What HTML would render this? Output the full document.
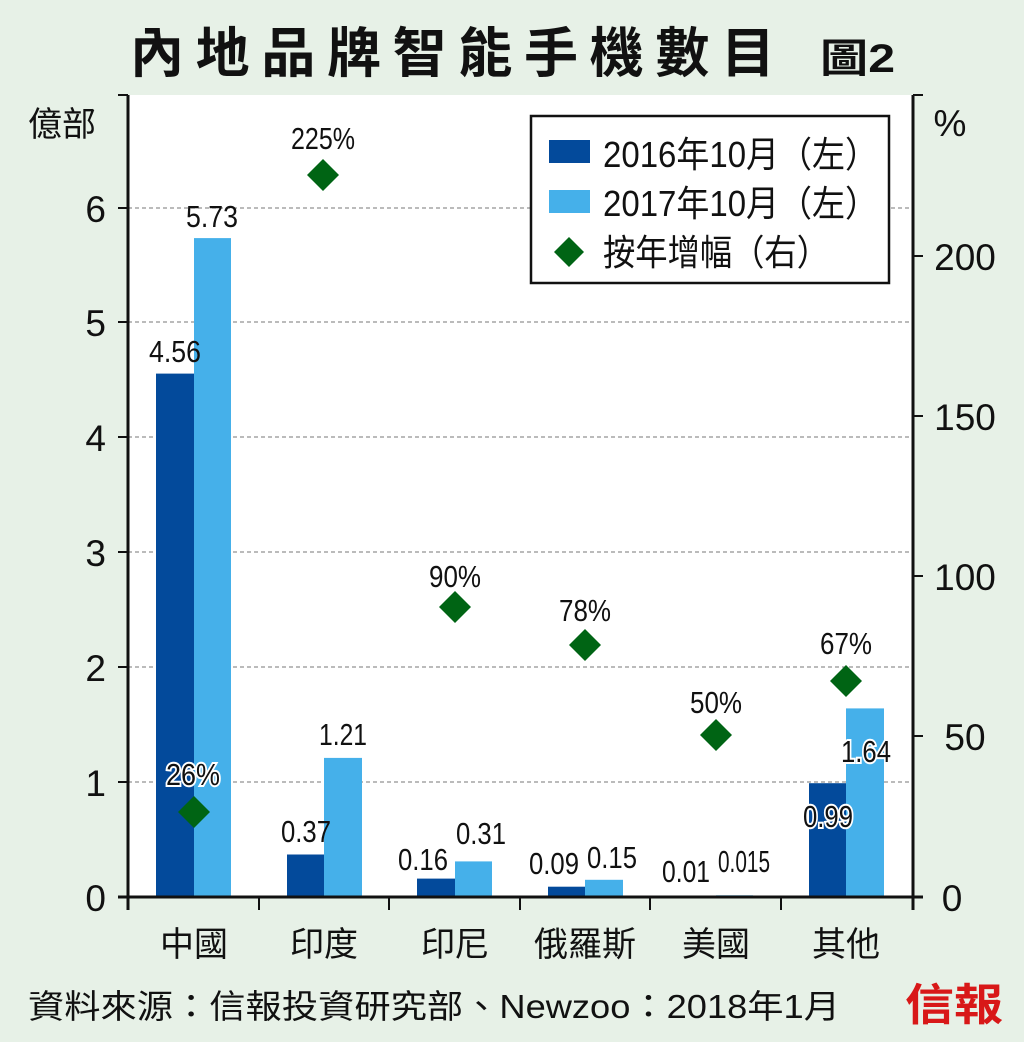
<!DOCTYPE html>
<html><head><meta charset="utf-8"><style>
body{margin:0;background:#e7f1e7;}
svg{display:block}
text{font-family:"Liberation Sans","Noto Sans CJK TC",sans-serif;}
.v{font-size:31px;text-anchor:middle;fill:#111}
.o{stroke:#fff;stroke-width:4;paint-order:stroke;}
</style></head><body>
<svg width="1024" height="1042" viewBox="0 0 1024 1042">
<rect width="1024" height="1042" fill="#e7f1e7"/>
<text x="130" y="72" font-size="54" font-weight="bold" textLength="645" lengthAdjust="spacing" fill="#111">內地品牌智能手機數目</text>
<text x="820" y="72" font-size="40" font-weight="bold" textLength="75" lengthAdjust="spacingAndGlyphs" fill="#111">圖2</text>
<rect x="128" y="95" width="785" height="802" fill="#fff"/>
<g stroke="#777" stroke-dasharray="4,3" stroke-width="1">
<line x1="128" x2="913" y1="782" y2="782"/><line x1="128" x2="913" y1="667" y2="667"/>
<line x1="128" x2="913" y1="552" y2="552"/><line x1="128" x2="913" y1="437" y2="437"/>
<line x1="128" x2="913" y1="322" y2="322"/><line x1="128" x2="913" y1="208" y2="208"/>
</g>
<g fill="#034a9b">
<rect x="156" y="373.6" width="38" height="523.4"/>
<rect x="287" y="854.5" width="37" height="42.5"/>
<rect x="417" y="878.6" width="38" height="18.4"/>
<rect x="548" y="886.7" width="37" height="10.3"/>
<rect x="678" y="895.9" width="38" height="1.1"/>
<rect x="809" y="783.2" width="37" height="113.8"/>
</g>
<g fill="#45b0ea">
<rect x="194" y="238.1" width="37" height="658.9"/>
<rect x="324" y="757.9" width="38" height="139.1"/>
<rect x="455" y="861.4" width="37" height="35.6"/>
<rect x="585" y="879.8" width="38" height="17.2"/>
<rect x="716" y="895.3" width="37" height="1.7"/>
<rect x="846" y="708.4" width="38" height="188.6"/>
</g>
<g stroke="#111" stroke-width="3" fill="none">
<line x1="128" y1="95" x2="128" y2="910"/>
<line x1="913" y1="95" x2="913" y2="910"/>
<line x1="118" y1="897" x2="923" y2="897"/>
</g>
<g stroke="#111" stroke-width="2">
<line x1="118" x2="128" y1="782" y2="782"/><line x1="118" x2="128" y1="667" y2="667"/>
<line x1="118" x2="128" y1="552" y2="552"/><line x1="118" x2="128" y1="437" y2="437"/>
<line x1="118" x2="128" y1="322" y2="322"/><line x1="118" x2="128" y1="208" y2="208"/>
<line x1="118" x2="128" y1="95" y2="95"/>
<line x1="913" x2="923" y1="736" y2="736"/><line x1="913" x2="923" y1="576" y2="576"/>
<line x1="913" x2="923" y1="416" y2="416"/><line x1="913" x2="923" y1="256" y2="256"/>
<line x1="913" x2="923" y1="95" y2="95"/>
<line x1="259" x2="259" y1="897" y2="910"/><line x1="389" x2="389" y1="897" y2="910"/>
<line x1="520" x2="520" y1="897" y2="910"/><line x1="650" x2="650" y1="897" y2="910"/>
<line x1="781" x2="781" y1="897" y2="910"/>
</g>
<g font-size="37" text-anchor="end" fill="#111">
<text x="106" y="911">0</text><text x="106" y="796">1</text><text x="106" y="681">2</text>
<text x="106" y="566">3</text><text x="106" y="451">4</text><text x="106" y="336">5</text><text x="106" y="222">6</text>
</g>
<g font-size="37" text-anchor="middle" fill="#111">
<text x="952" y="911">0</text><text x="965" y="750">50</text><text x="965" y="590">100</text>
<text x="965" y="430">150</text><text x="965" y="270">200</text><text x="950" y="136">%</text>
</g>
<text x="28" y="136" font-size="34" fill="#111">億部</text>
<g font-size="34" text-anchor="middle" fill="#111">
<text x="194" y="956">中國</text><text x="324" y="956">印度</text><text x="455" y="956">印尼</text>
<text x="585" y="956">俄羅斯</text><text x="716" y="956">美國</text><text x="846" y="956">其他</text>
</g>
<g fill="#006414">
<path d="M323 159 L339 175 L323 191 L307 175Z"/>
<path d="M194 796 L210 812 L194 828 L178 812Z"/>
<path d="M455 591 L471 607 L455 623 L439 607Z"/>
<path d="M585 629 L601 645 L585 661 L569 645Z"/>
<path d="M716 719 L732 735 L716 751 L700 735Z"/>
<path d="M846 665 L862 681 L846 697 L830 681Z"/>
</g>
<g class="v">
<text x="175" y="362" textLength="52" lengthAdjust="spacingAndGlyphs">4.56</text>
<text x="212" y="227" textLength="52" lengthAdjust="spacingAndGlyphs">5.73</text>
<text x="193" y="785" class="o" textLength="54" lengthAdjust="spacingAndGlyphs">26%</text>
<text x="306" y="842" textLength="50" lengthAdjust="spacingAndGlyphs">0.37</text>
<text x="343" y="745" textLength="48" lengthAdjust="spacingAndGlyphs">1.21</text>
<text x="423" y="870" textLength="50" lengthAdjust="spacingAndGlyphs">0.16</text>
<text x="481" y="844" textLength="50" lengthAdjust="spacingAndGlyphs">0.31</text>
<text x="554" y="874" textLength="50" lengthAdjust="spacingAndGlyphs">0.09</text>
<text x="612" y="868" textLength="50" lengthAdjust="spacingAndGlyphs">0.15</text>
<text x="686" y="882" textLength="48" lengthAdjust="spacingAndGlyphs">0.01</text>
<text x="744" y="872" textLength="52" lengthAdjust="spacingAndGlyphs">0.015</text>
<text x="828" y="827" class="o" textLength="50" lengthAdjust="spacingAndGlyphs">0.99</text>
<text x="866" y="762" class="o" textLength="50" lengthAdjust="spacingAndGlyphs">1.64</text>
<text x="323" y="149" textLength="64" lengthAdjust="spacingAndGlyphs">225%</text>
<text x="455" y="587" textLength="52" lengthAdjust="spacingAndGlyphs">90%</text>
<text x="585" y="621" textLength="52" lengthAdjust="spacingAndGlyphs">78%</text>
<text x="716" y="713" textLength="52" lengthAdjust="spacingAndGlyphs">50%</text>
<text x="846" y="654" textLength="52" lengthAdjust="spacingAndGlyphs">67%</text>
</g>
<rect x="531" y="116" width="358" height="167" fill="#fff" stroke="#111" stroke-width="2.5"/>
<rect x="549" y="140" width="41" height="23" fill="#034a9b"/>
<rect x="549" y="190" width="41" height="23" fill="#45b0ea"/>
<path d="M569 237 L584 252 L569 267 L554 252Z" fill="#006414"/>
<g font-size="36" fill="#111">
<text x="603" y="167" textLength="275" lengthAdjust="spacingAndGlyphs">2016年10月（左）</text>
<text x="603" y="216" textLength="275" lengthAdjust="spacingAndGlyphs">2017年10月（左）</text>
<text x="603" y="265" textLength="226" lengthAdjust="spacingAndGlyphs">按年增幅（右）</text>
</g>
<text x="28" y="1018" font-size="33" fill="#111" textLength="812" lengthAdjust="spacingAndGlyphs">資料來源：信報投資研究部、Newzoo：2018年1月</text>
<text x="905" y="1020" font-size="44" font-weight="bold" fill="#d81818" textLength="98" lengthAdjust="spacingAndGlyphs" font-family="'Noto Serif CJK SC',serif">信報</text>
</svg>
</body></html>
